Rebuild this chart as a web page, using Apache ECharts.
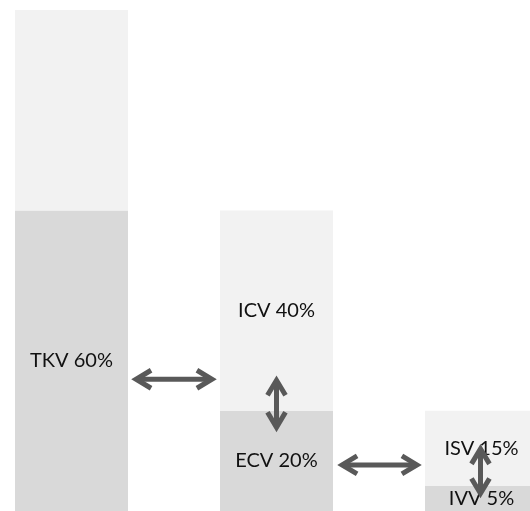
<!DOCTYPE html>
<html>
<head>
<meta charset="utf-8">
<script src="https://cdn.jsdelivr.net/npm/echarts@6/dist/echarts.min.js"></script>
<style>
  html, body { margin: 0; padding: 0; background: #fff; }
  #main { width: 530px; height: 511px; }
</style>
</head>
<body>
<div id="main"></div>
<script>
// volumes in % of total kidney volume
const categories = ['TKV', 'ICV / ECV', 'ISV / IVV']
const lowerValues = [60, 20, 5]
const upperValues = [40, 40, 15]
const lowerLabels = ['TKV 60%', 'ECV 20%', 'IVV 5%']
const upperLabels = ['', 'ICV 40%', 'ISV 15%']

// double arrows: [x1, y1, x2, y2] in (category index, value)
const arrows = [
  [0.315, 26.3, 0.685, 26.3],
  [1, 26.1, 1, 16.7],
  [1.32, 9.2, 1.685, 9.2],
  [1.995, 12.4, 1.995, 3.5]
]

const chart = echarts.init(document.getElementById('main'))

const labelStyle = {
  show: true,
  position: 'inside',
  color: '#111',
  fontSize: 20,
  fontFamily: 'Lato'
}

chart.setOption({
  animation: false,
  grid: {
    top: 10,
    bottom: 0,
    left: 71.5,
    right: 48.5
  },
  xAxis: {
    type: 'category',
    data: categories,
    boundaryGap: false,
    show: false
  },
  yAxis: {
    type: 'value',
    min: 0,
    max: 100,
    show: false
  },
  series: [
    {
      type: 'bar',
      stack: 'vol',
      barWidth: 113,
      clip: false,
      data: lowerValues,
      itemStyle: { color: '#d9d9d9' },
      label: Object.assign({}, labelStyle, {
        formatter: p => lowerLabels[p.dataIndex]
      })
    },
    {
      type: 'bar',
      stack: 'vol',
      barWidth: 113,
      clip: false,
      data: upperValues,
      itemStyle: { color: '#f2f2f2' },
      label: Object.assign({}, labelStyle, {
        formatter: p => upperLabels[p.dataIndex]
      })
    }
  ]
})

function toPixel(x, y) {
  const a = chart.convertToPixel({ gridIndex: 0 }, [0, y])
  const b = chart.convertToPixel({ gridIndex: 0 }, [1, y])
  return [a[0] + x * (b[0] - a[0]), a[1]]
}

function arrowShapes(a) {
  const p1 = toPixel(a[0], a[1])
  const p2 = toPixel(a[2], a[3])
  const dx = p2[0] - p1[0]
  const dy = p2[1] - p1[1]
  const len = Math.sqrt(dx * dx + dy * dy)
  const ux = dx / len, uy = dy / len
  const nx = -uy, ny = ux
  const back = 15, side = 9
  const style = { stroke: '#595959', lineWidth: 5, fill: null, lineCap: 'butt', lineJoin: 'miter' }
  const head = (t, dir) => [
    [t[0] + dir * ux * back + nx * side, t[1] + dir * uy * back + ny * side],
    [t[0], t[1]],
    [t[0] + dir * ux * back - nx * side, t[1] + dir * uy * back - ny * side]
  ]
  return [
    { type: 'line', shape: { x1: p1[0] + ux * 3, y1: p1[1] + uy * 3, x2: p2[0] - ux * 3, y2: p2[1] - uy * 3 }, style: style, z: 10 },
    { type: 'polyline', shape: { points: head(p1, 1) }, style: style, z: 10 },
    { type: 'polyline', shape: { points: head(p2, -1) }, style: style, z: 10 }
  ]
}

let graphics = []
arrows.forEach(a => { graphics = graphics.concat(arrowShapes(a)) })
chart.setOption({ graphic: graphics })
</script>
</body>
</html>
